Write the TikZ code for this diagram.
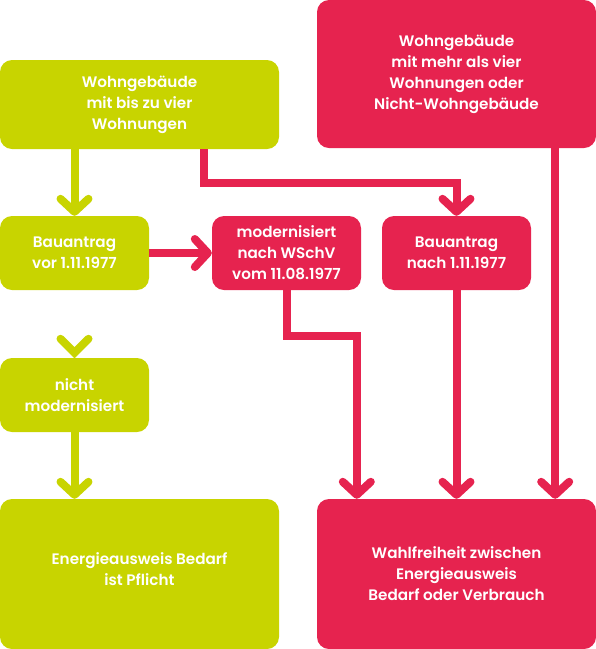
\documentclass[tikz,border=0pt]{standalone}
\usepackage{fontspec}
\setmainfont{Poppins}[UprightFont={* SemiBold},BoldFont={* Bold}]
\usetikzlibrary{arrows.meta,calc}
\definecolor{lime}{HTML}{C8D400}
\definecolor{rose}{HTML}{E6234F}
\tikzset{
  box/.style={rounded corners=12pt,inner sep=0pt,align=center,text=white,
    font=\fontsize{15.2}{21}\selectfont},
  gbox/.style={box,fill=lime},
  rbox/.style={box,fill=rose},
  conn/.style={line width=8pt,-{Straight Barb[length=13pt,width=28pt,round]}},
  gconn/.style={conn,draw=lime},
  rconn/.style={conn,draw=rose},
}
\begin{document}
\begin{tikzpicture}[x=1pt,y=-1pt]
\useasboundingbox (0,0) rectangle (596,649);
\node[gbox,minimum width=279pt,minimum height=89pt] (g1) at (139.5,104.5) {Wohngebäude\\mit bis zu vier\\Wohnungen};
\node[rbox,minimum width=279pt,minimum height=148pt] (r1) at (456.5,74) {Wohngebäude\\mit mehr als vier\\Wohnungen oder\\Nicht-Wohngebäude};
\node[gbox,minimum width=149pt,minimum height=74pt] (g2) at (74.5,253) {Bauantrag\\vor 1.11.1977};
\node[rbox,minimum width=149pt,minimum height=74pt] (r2) at (286.5,253) {modernisiert\\nach WSchV\\vom 11.08.1977};
\node[rbox,minimum width=149pt,minimum height=74pt] (r3) at (456.5,253) {Bauantrag\\nach 1.11.1977};
\node[gbox,minimum width=149pt,minimum height=74pt] (g3) at (74.5,395) {nicht\\modernisiert};
\node[gbox,minimum width=279pt,minimum height=150pt,text depth=10pt] (g4) at (139.5,574) {Energieausweis Bedarf\\ist Pflicht};
\node[rbox,minimum width=279pt,minimum height=150pt] (r4) at (456.5,574) {Wahlfreiheit zwischen\\Energieausweis\\Bedarf oder Verbrauch};
\coordinate (g1r) at ($(g1.south east)+(-75,0)$);
\coordinate (r1r) at ($(r1.south east)+(-41,0)$);
\coordinate (r4l) at ($(r4.north west)+(40,0)$);
% green connectors
\draw[gconn] (g2.north |- g1.south) -- (g2.north);
\draw[gconn] (g3.south) -- (g3.south |- r4.north);
\draw[lime,line width=8pt,line cap=round] ($(g3.north)+(-14,-19)$) -- ($(g3.north)+(0,-5)$) -- ($(g3.north)+(14,-19)$);
% red connectors
\draw[rconn] (g1r) |- ($(r3.north)+(0,-33)$) -- (r3.north);
\draw[rconn] (g2.east) -- (r2.west);
\draw[rconn] (r1r) -- (r1r |- r4.north);
\draw[rconn] (r2.south) |- ($(r4l)+(0,-163)$) -- (r4l);
\draw[rconn] (r3.south) -- (r3.south |- r4.north);
\end{tikzpicture}
\end{document}
